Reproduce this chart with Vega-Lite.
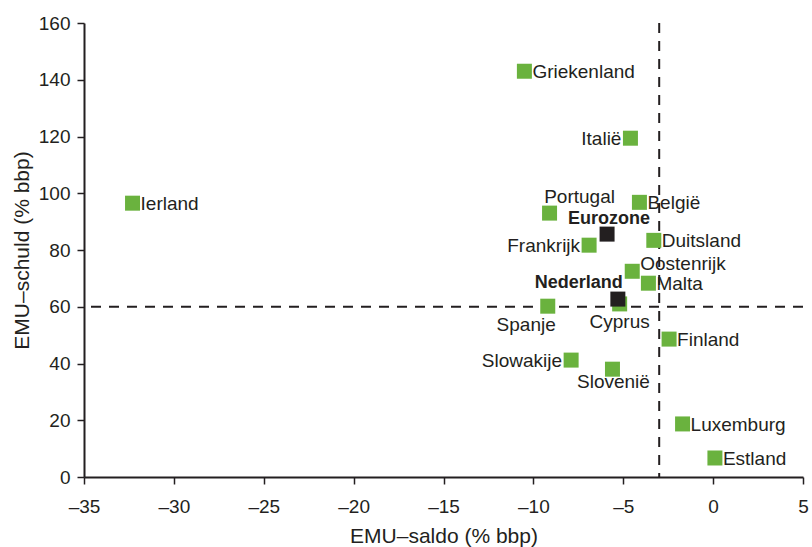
{
  "$schema": "https://vega.github.io/schema/vega-lite/v6.json",
  "width": 719,
  "height": 454,
  "autosize": {"type": "none"},
  "padding": {"left": 84, "top": 23, "right": 9, "bottom": 70},
  "background": "white",
  "config": {
    "view": {"stroke": null},
    "font": "Liberation Sans",
    "axis": {
      "grid": false,
      "labelFlush": false,
      "domainColor": "#231f20",
      "domainWidth": 2,
      "tickColor": "#231f20",
      "tickWidth": 1.5,
      "tickSize": 7,
      "labelFont": "Liberation Sans",
      "labelFontSize": 19,
      "labelColor": "#231f20",
      "titleFont": "Liberation Sans",
      "titleFontSize": 21,
      "titleFontWeight": "normal",
      "titleColor": "#231f20"
    }
  },
  "data": {
    "values": [
      {"land": "Ierland", "saldo": -32.3, "schuld": 96.5, "type": "land"},
      {"land": "Griekenland", "saldo": -10.5, "schuld": 143.0, "type": "land"},
      {"land": "Italië", "saldo": -4.6, "schuld": 119.4, "type": "land"},
      {"land": "Portugal", "saldo": -9.1, "schuld": 93.0, "type": "land"},
      {"land": "België", "saldo": -4.1, "schuld": 96.8, "type": "land"},
      {"land": "Frankrijk", "saldo": -6.9, "schuld": 81.7, "type": "land"},
      {"land": "Duitsland", "saldo": -3.3, "schuld": 83.4, "type": "land"},
      {"land": "Oostenrijk", "saldo": -4.5, "schuld": 72.5, "type": "land"},
      {"land": "Malta", "saldo": -3.6, "schuld": 68.3, "type": "land"},
      {"land": "Cyprus", "saldo": -5.2, "schuld": 61.0, "type": "land"},
      {"land": "Spanje", "saldo": -9.2, "schuld": 60.2, "type": "land"},
      {"land": "Finland", "saldo": -2.45, "schuld": 48.6, "type": "land"},
      {"land": "Slowakije", "saldo": -7.9, "schuld": 41.2, "type": "land"},
      {"land": "Slovenië", "saldo": -5.6, "schuld": 38.0, "type": "land"},
      {"land": "Luxemburg", "saldo": -1.7, "schuld": 18.7, "type": "land"},
      {"land": "Estland", "saldo": 0.1, "schuld": 6.7, "type": "land"},
      {"land": "Eurozone", "saldo": -5.9, "schuld": 85.6, "type": "aggregaat"},
      {"land": "Nederland", "saldo": -5.3, "schuld": 62.7, "type": "aggregaat"}
    ]
  },
  "encoding": {
    "x": {
      "field": "saldo", "type": "quantitative",
      "scale": {"domain": [-35, 5], "nice": false, "zero": false},
      "axis": {
        "title": "EMU–saldo (% bbp)",
        "values": [-35, -30, -25, -20, -15, -10, -5, 0, 5],
        "labelPadding": 13,
        "titlePadding": 9,
        "labelExpr": "replace(datum.label, '−', '–')"
      }
    },
    "y": {
      "field": "schuld", "type": "quantitative",
      "scale": {"domain": [0, 160], "nice": false},
      "axis": {
        "title": "EMU–schuld (% bbp)",
        "values": [0, 20, 40, 60, 80, 100, 120, 140, 160],
        "labelPadding": 7,
        "titlePadding": 6
      }
    }
  },
  "layer": [
    {
      "data": {"values": [{"grens": -3}]},
      "mark": {"type": "rule", "strokeDash": [10, 8], "strokeWidth": 2, "color": "#231f20"},
      "encoding": {"x": {"field": "grens", "type": "quantitative"}, "y": null}
    },
    {
      "data": {"values": [{"grens": 60}]},
      "mark": {"type": "rule", "strokeDash": [10, 8], "strokeWidth": 2, "color": "#231f20"},
      "encoding": {"y": {"field": "grens", "type": "quantitative"}, "x": null}
    },
    {
      "transform": [{"filter": "datum.type == 'land'"}],
      "mark": {"type": "square", "size": 225, "opacity": 1, "filled": true, "color": "#6ab23e"}
    },
    {
      "transform": [{"filter": "datum.type == 'aggregaat'"}],
      "mark": {"type": "square", "size": 225, "opacity": 1, "filled": true, "color": "#231f20"}
    },
    {
      "transform": [{"filter": {"field": "land", "oneOf": ["Ierland", "Griekenland", "België", "Duitsland", "Malta", "Finland", "Luxemburg", "Estland"]}}],
      "mark": {"type": "text", "align": "left", "baseline": "middle", "dx": 8, "dy": 1, "fontSize": 19, "color": "#231f20"},
      "encoding": {"text": {"field": "land"}}
    },
    {
      "transform": [{"filter": {"field": "land", "oneOf": ["Oostenrijk"]}}],
      "mark": {"type": "text", "align": "left", "baseline": "middle", "dx": 8, "dy": -7, "fontSize": 19, "color": "#231f20"},
      "encoding": {"text": {"field": "land"}}
    },
    {
      "transform": [{"filter": {"field": "land", "oneOf": ["Italië", "Frankrijk", "Slowakije"]}}],
      "mark": {"type": "text", "align": "right", "baseline": "middle", "dx": -9, "dy": 1, "fontSize": 19, "color": "#231f20"},
      "encoding": {"text": {"field": "land"}}
    },
    {
      "transform": [{"filter": {"field": "land", "oneOf": ["Portugal"]}}],
      "mark": {"type": "text", "align": "center", "baseline": "middle", "dx": 30, "dy": -16, "fontSize": 19, "color": "#231f20"},
      "encoding": {"text": {"field": "land"}}
    },
    {
      "transform": [{"filter": {"field": "land", "oneOf": ["Eurozone"]}}],
      "mark": {"type": "text", "align": "center", "baseline": "middle", "dx": 2, "dy": -15, "fontSize": 18, "fontWeight": "bold", "color": "#231f20"},
      "encoding": {"text": {"field": "land"}}
    },
    {
      "transform": [{"filter": {"field": "land", "oneOf": ["Nederland"]}}],
      "mark": {"type": "text", "align": "right", "baseline": "middle", "dx": 5, "dy": -16, "fontSize": 18, "fontWeight": "bold", "color": "#231f20"},
      "encoding": {"text": {"field": "land"}}
    },
    {
      "transform": [{"filter": {"field": "land", "oneOf": ["Cyprus"]}}],
      "mark": {"type": "text", "align": "center", "baseline": "middle", "dx": 0, "dy": 18, "fontSize": 19, "color": "#231f20"},
      "encoding": {"text": {"field": "land"}}
    },
    {
      "transform": [{"filter": {"field": "land", "oneOf": ["Slovenië"]}}],
      "mark": {"type": "text", "align": "center", "baseline": "middle", "dx": 1, "dy": 13, "fontSize": 19, "color": "#231f20"},
      "encoding": {"text": {"field": "land"}}
    },
    {
      "transform": [{"filter": {"field": "land", "oneOf": ["Spanje"]}}],
      "mark": {"type": "text", "align": "right", "baseline": "middle", "dx": 8, "dy": 19, "fontSize": 19, "color": "#231f20"},
      "encoding": {"text": {"field": "land"}}
    }
  ]
}
